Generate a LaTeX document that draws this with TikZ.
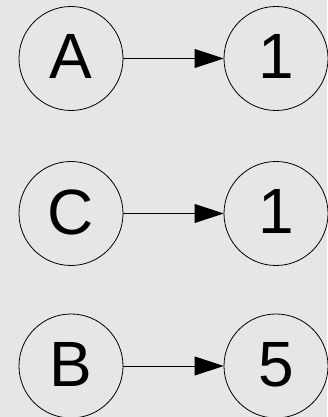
\documentclass[tikz,border=0pt]{standalone}
\usepackage{fontspec}
\setmainfont{Liberation Sans}
\usetikzlibrary{arrows.meta}
\definecolor{bggray}{HTML}{E6E6E6}
\newcommand{\lift}[1]{\raisebox{3.5pt}{#1}}
\tikzset{
  vertex/.style={circle, draw=black, line width=0.8pt, minimum size=104pt, inner sep=0pt,
    font=\fontsize{64}{64}\selectfont},
  link/.style={draw=black, line width=0.8pt, -{Triangle[length=29pt,width=19pt]}}
}
\begin{document}
\begin{tikzpicture}[x=1pt,y=1pt]
  \fill[bggray] (0,0) rectangle (327,417);
  \useasboundingbox (0,0) rectangle (327,417);
  \node[vertex] (a)  at (71,358.5) {\lift{A}};
  \node[vertex] (a1) at (276,358.5){\lift{1}};
  \node[vertex] (c)  at (71,203.5) {\lift{C}};
  \node[vertex] (c1) at (276,203.5){\lift{1}};
  \node[vertex] (b)  at (71,51)    {\lift{B}};
  \node[vertex] (b5) at (276,51)   {\lift{5}};
  \draw[link] (a) -- (a1);
  \draw[link] (c) -- (c1);
  \draw[link] (b) -- (b5);
\end{tikzpicture}
\end{document}
